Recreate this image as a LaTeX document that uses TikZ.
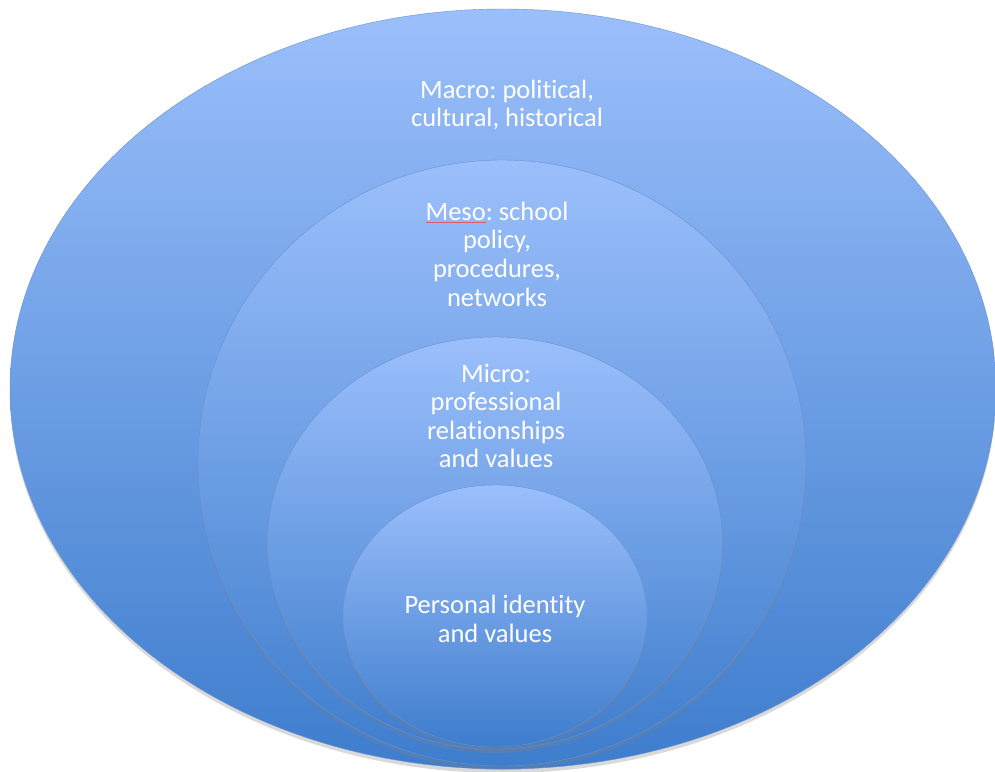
\documentclass[tikz,border=0pt]{standalone}
\usepackage{fontspec}
\setmainfont{Carlito}[Ligatures={NoCommon,NoContextual}]
\usepackage{tikz}
\usetikzlibrary{shapes.geometric}
\usetikzlibrary{shadows}
\definecolor{ringtop}{RGB}{155,191,251}
\definecolor{ringmid}{RGB}{121,165,234}
\definecolor{ringbot}{RGB}{62,125,205}
\definecolor{ringedge}{RGB}{104,145,212}
\definecolor{spellred}{RGB}{225,90,100}
\newcommand\spellmark[1]{\setbox0\hbox{#1}\rlap{\textcolor{spellred}{\rule[-2.5pt]{\wd0}{0.8pt}}}#1}
\frenchspacing

\begin{document}
\begin{tikzpicture}[x=1pt,y=1pt,
    ring/.style={ellipse, inner sep=0pt, draw=ringedge, line width=.4pt,
        top color=ringtop, middle color=ringmid, bottom color=ringbot,
        drop shadow={shadow xshift=0pt, shadow yshift=-4pt, opacity=.3}},
    lbl/.style={align=center, text=white,
        font=\fontsize{26.5}{28.6}\selectfont}]
    \useasboundingbox (0,0) rectangle (995,-771);

    % nested levels, outside in
    \node[ring, minimum width=986pt, minimum height=760pt] (macro) at (503,-389) {};
    \node[ring, minimum width=608pt, minimum height=606pt] (meso) at (502,-463) {};
    \node[ring, minimum width=455pt, minimum height=412pt] (micro) at (495,-543) {};
    \node[ring, minimum width=304pt, minimum height=262pt] (personal) at (495,-616) {};

    % labels
    \node[lbl] (macrotxt) at (507,-105) {Macro: political,\\cultural, historical};
    \node[lbl] (mesotxt) at (497,-254)
        {\spellmark{Meso}: school\\policy,\\procedures,\\networks};
    \node[lbl] (microtxt) at (496,-416) {Micro:\\professional\\relationships\\and values};
    \node[lbl] (personaltxt) at (495,-619) {Personal identity\\and values};
\end{tikzpicture}
\end{document}
